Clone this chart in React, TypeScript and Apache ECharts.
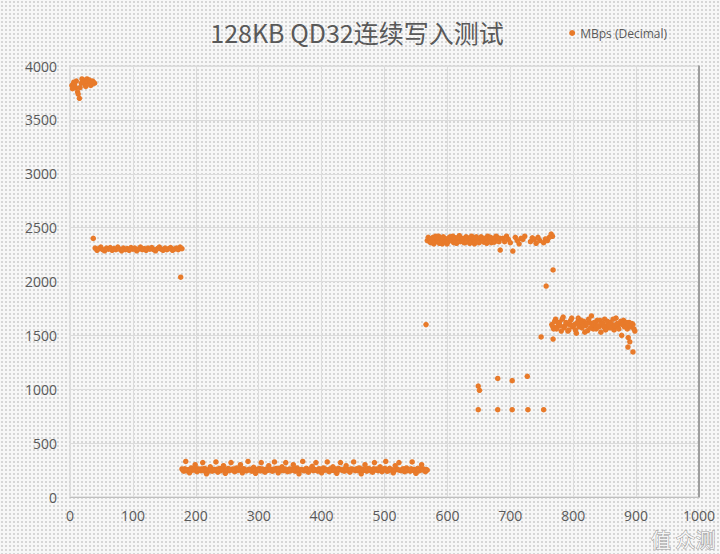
import React, { useEffect, useRef } from "react";
import * as echarts from "echarts";

const titleText = "128KB QD32连续写入测试";
const seriesName = "MBps (Decimal)";
const xTicks = { min: 0, max: 1000, interval: 100 };
const yTicks = { min: 0, max: 4000, interval: 500 };

// dense runs: start x, step, y values
const run1a = { start: 3, step: 3, ys: [3820, 3850, 3800, 3760, 3700, 3840, 3870, 3830, 3880, 3850, 3820, 3860, 3840] };
const run1b = { start: 4, step: 3, ys: [3790, 3830, 3860, 3740, 3800, 3880, 3850, 3810, 3860, 3870, 3830, 3850] };
const run3 = {
  start: 40, step: 3, ys: [
    2310, 2290, 2305, 2320, 2295, 2285, 2310, 2300, 2315, 2290, 2305, 2295, 2320, 2300, 2285, 2310,
    2295, 2305, 2290, 2315, 2300, 2310, 2285, 2300, 2320, 2295, 2305, 2290, 2310, 2300, 2315, 2295,
    2285, 2305, 2320, 2300, 2290, 2310, 2295, 2305, 2315, 2290, 2300, 2310, 2295, 2320, 2305],
};
const run5a = {
  start: 178, step: 3, ys: [
    260, 240, 330, 250, 225, 270, 255, 300, 235, 260,
    245, 320, 265, 215, 250, 280, 240, 255, 325, 230,
    265, 250, 290, 220, 255, 245, 320, 260, 235, 270,
    250, 300, 225, 260, 245, 330, 255, 240, 275, 220,
    255, 265, 320, 245, 230, 260, 290, 250, 240, 325,
    265, 225, 255, 280, 245, 320, 235, 260, 250, 300,
    240, 270, 215, 255, 330, 245, 265, 230, 255, 285,
    250, 320, 240, 260, 225, 270, 250, 325, 235, 255,
    280, 245, 220, 265, 320, 250, 240, 290, 255, 230,
    260, 325, 245, 250, 270, 215, 255, 300, 240, 265,
    250, 230, 320, 260, 245, 280, 235, 255, 330, 240,
    265, 250, 225, 290, 255, 320, 245, 260, 235, 270,
    250, 240, 325, 255, 220, 265, 245, 300, 260, 235, 250],
};
const run5b = {
  start: 179.5, step: 3, ys: [
    250, 262, 245, 255, 240, 258, 250, 265, 248, 252,
    260, 245, 255, 250, 242, 262, 255, 248, 258, 250,
    245, 260, 252, 248, 265, 250, 255, 242, 260, 250,
    255, 248, 262, 250, 245, 258, 252, 265, 248, 255,
    250, 242, 260, 255, 250, 248, 262, 245, 258, 252,
    250, 265, 245, 255, 260, 248, 252, 242, 258, 250,
    262, 250, 248, 255, 245, 260, 252, 250, 265, 245,
    255, 248, 260, 250, 242, 258, 255, 250, 262, 248,
    250, 260, 245, 255, 252, 248, 265, 250, 242, 258,
    255, 250, 262, 245, 250, 258, 248, 255, 260, 250,
    245, 262, 252, 250, 258, 248, 255, 265, 242, 250,
    258, 250, 245, 262, 255, 248, 250, 260, 252, 245,
    255, 262, 248, 250, 258, 245, 260, 252, 250, 255],
};
const run7a = {
  start: 568, step: 3, ys: [
    2380, 2400, 2360, 2410, 2390, 2370, 2420, 2385, 2350, 2400,
    2395, 2370, 2415, 2380, 2360, 2405, 2390, 2425, 2375, 2395,
    2360, 2410, 2385, 2400, 2370, 2350, 2415, 2390, 2380, 2405,
    2365, 2395, 2420, 2380, 2360, 2400, 2385, 2410, 2370],
};
const run7b = {
  start: 569.5, step: 3, ys: [
    2410, 2365, 2395, 2350, 2420, 2385, 2355, 2400, 2415, 2370,
    2350, 2405, 2380, 2420, 2395, 2355, 2410, 2370, 2400, 2360,
    2415, 2380, 2355, 2420, 2395, 2405, 2370, 2360, 2415, 2385,
    2400, 2355, 2375, 2410, 2395, 2365, 2420, 2380, 2400],
};
const run11a = {
  start: 766, step: 3, ys: [
    1600, 1560, 1650, 1580, 1620, 1540, 1670, 1590, 1610, 1550,
    1640, 1580, 1600, 1520, 1660, 1610, 1570, 1630, 1590, 1545,
    1620, 1680, 1560, 1600, 1640, 1580, 1530, 1610, 1650, 1590,
    1570, 1620, 1600, 1550, 1660, 1580, 1610, 1500, 1640, 1590,
    1560, 1620, 1580, 1600, 1540],
};
const run11b = {
  start: 767.5, step: 3, ys: [
    1580, 1630, 1560, 1610, 1590, 1650, 1570, 1620, 1540, 1600,
    1660, 1590, 1550, 1620, 1580, 1640, 1600, 1530, 1610, 1650,
    1570, 1600, 1620, 1560, 1590, 1640, 1610, 1580, 1550, 1630,
    1600, 1570, 1650, 1590, 1610, 1560, 1630, 1600, 1580, 1620,
    1480, 1590, 1610, 1560],
};

// sparse points [x, y]
const clusters7: number[][] = [
  [688, 2400], [691, 2370], [694, 2420], [697, 2390], [700, 2360],
  [708, 2410], [711, 2380], [714, 2350], [717, 2400], [720, 2390], [723, 2420],
  [732, 2370], [735, 2405], [738, 2390], [741, 2355], [744, 2410], [747, 2380],
  [753, 2360], [756, 2395], [759, 2380], [762, 2410], [765, 2440], [767, 2420],
];
const outliers: number[][] = [
  [37, 2400], [176, 2040], [566, 1600], [684, 2292], [704, 2283], [768, 2107], [757, 1958],
  [749, 1485], [768, 1466], [887, 1392], [895, 1346], [890, 1440],
  [649, 1030], [651, 990], [680, 1100], [703, 1080], [727, 1120],
  [649, 810], [680, 810], [703, 810], [728, 810], [753, 810],
];

const runs = [run1a, run1b, run3, run5a, run5b, run7a, run7b, run11a, run11b];

export default function App() {
  const ref = useRef<HTMLDivElement>(null);
  useEffect(() => {
    if (!ref.current) return;
    const chart = echarts.init(ref.current, null, { renderer: "svg" });
    const data: number[][] = [];
    runs.forEach((r) => r.ys.forEach((y, i) => data.push([r.start + i * r.step, y])));
    clusters7.forEach((p) => data.push(p));
    outliers.forEach((p) => data.push(p));
    const labelColor = "#595959";
    const plain = (v: number) => String(v);
    chart.setOption({
      animation: false,
      title: {
        text: titleText,
        left: 352,
        top: 14,
        textAlign: "center",
        textStyle: { fontSize: 25, fontWeight: "normal", color: "#595959", fontFamily: "Noto Sans CJK SC" },
      },
      legend: {
        right: 48,
        top: 22,
        icon: "circle",
        itemWidth: 6,
        itemHeight: 6,
        itemGap: 4,
        textStyle: { fontSize: 12, color: labelColor, fontFamily: "Open Sans" },
        data: [seriesName],
      },
      grid: { left: 70, right: 21, top: 66, bottom: 57, show: true, borderColor: "#d0d0d0", borderWidth: 1 },
      xAxis: {
        type: "value",
        min: xTicks.min,
        max: xTicks.max,
        interval: xTicks.interval,
        axisLine: { show: true, lineStyle: { color: "#bfbfbf" } },
        axisTick: { show: false },
        axisLabel: { color: labelColor, fontSize: 14, fontFamily: "Open Sans", margin: 11, formatter: plain },
        splitLine: { show: true, lineStyle: { color: "#dcdcdc" } },
      },
      yAxis: [
        {
          type: "value",
          min: yTicks.min,
          max: yTicks.max,
          interval: yTicks.interval,
          axisLine: { show: false },
          axisTick: { show: false },
          axisLabel: { color: labelColor, fontSize: 14, fontFamily: "Open Sans", margin: 13, formatter: plain },
          splitLine: { show: true, lineStyle: { color: "#dcdcdc" } },
        },
        {
          type: "value",
          position: "right",
          min: yTicks.min,
          max: yTicks.max,
          interval: yTicks.interval,
          axisLine: { show: true, lineStyle: { color: "#8a8a8a", width: 1.5 } },
          axisTick: { show: false },
          axisLabel: { show: false },
          splitLine: { show: false },
        },
      ],
      series: [
        {
          name: seriesName,
          type: "scatter",
          symbolSize: 5.5,
          itemStyle: { color: "#E87A2A", opacity: 1 },
          data,
        },
      ],
      graphic: [
        {
          type: "text",
          right: 4,
          bottom: 4,
          style: {
            text: "值 众测",
            fontSize: 20,
            fontFamily: "Noto Sans CJK SC",
            fill: "rgba(255,255,255,0.9)",
            stroke: "#9a9a9a",
            lineWidth: 1,
          },
        },
      ],
    });
    return () => chart.dispose();
  }, []);
  return (
    <div
      ref={ref}
      style={{
        position: "fixed",
        left: 0,
        top: 0,
        width: 720,
        height: 554,
        backgroundColor: "#f7f7f7",
        backgroundImage: "radial-gradient(#d6d6d6 0.8px, transparent 1.1px)",
        backgroundSize: "4px 4px",
      }}
    />
  );
}
